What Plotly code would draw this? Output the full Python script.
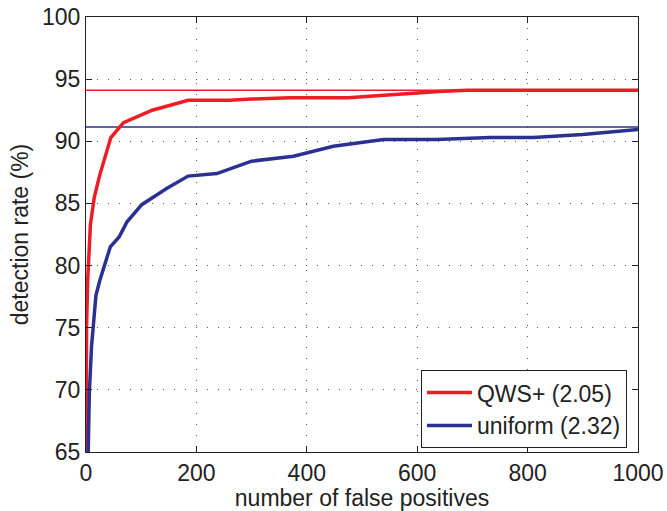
import plotly.graph_objects as go

qws_x = [0, 1, 3, 8, 15, 25, 45, 68, 120, 185, 260, 300, 370, 475, 540, 600, 640, 690, 1000]
qws_y = [65, 75, 78.8, 83.3, 85.5, 87.3, 90.3, 91.5, 92.5, 93.3, 93.3, 93.4, 93.5, 93.5, 93.7, 93.9, 94.0, 94.1, 94.1]

uni_x = [4, 6, 10, 18, 25, 44, 60, 74, 101, 146, 185, 237, 300, 376, 448, 539, 635, 732, 810, 900, 1000]
uni_y = [65, 69.7, 73.5, 77.6, 78.8, 81.5, 82.3, 83.5, 84.9, 86.2, 87.2, 87.4, 88.4, 88.8, 89.6, 90.15, 90.15, 90.3, 90.3, 90.55, 90.95]

ref_x = [0, 1000]
qws_ref = [94.1, 94.1]
uni_ref = [91.15, 91.15]

red = "#ee1c25"
blue = "#2b3192"

fig = go.Figure()
fig.add_trace(go.Scatter(x=ref_x, y=qws_ref, mode="lines", line=dict(color=red, width=1.5), showlegend=False, hoverinfo="skip"))
fig.add_trace(go.Scatter(x=ref_x, y=uni_ref, mode="lines", line=dict(color=blue, width=1.5), showlegend=False, hoverinfo="skip"))
fig.add_trace(go.Scatter(x=qws_x, y=qws_y, mode="lines", name="QWS+ (2.05)", line=dict(color=red, width=3.5)))
fig.add_trace(go.Scatter(x=uni_x, y=uni_y, mode="lines", name="uniform (2.32)", line=dict(color=blue, width=3.5)))

axis_common = dict(
    showgrid=True, gridcolor="#555", griddash="1px,10px", gridwidth=1,
    showline=True, linecolor="#222", linewidth=1, mirror="ticks",
    ticks="inside", ticklen=6, tickcolor="#222", automargin=False,
    zeroline=False, tickfont=dict(size=23, color="#222"),
)

fig.update_layout(
    width=667, height=511,
    margin=dict(l=86, r=29, t=17, b=59),
    paper_bgcolor="white", plot_bgcolor="white",
    font=dict(family="Liberation Sans, Arial, sans-serif", color="#222"),
    xaxis=dict(range=[0, 1000], dtick=200, title=dict(text="number of false positives", font=dict(size=23), standoff=2), **axis_common),
    yaxis=dict(range=[65, 100], dtick=5, title=dict(text="detection rate (%)", font=dict(size=23), standoff=6), **axis_common),
    legend=dict(x=0.98, y=0.009, xanchor="right", yanchor="bottom", bordercolor="#222", borderwidth=1,
                bgcolor="white", font=dict(size=23, color="#222"), tracegroupgap=0, itemwidth=45),
)

fig.write_html("out.html")
